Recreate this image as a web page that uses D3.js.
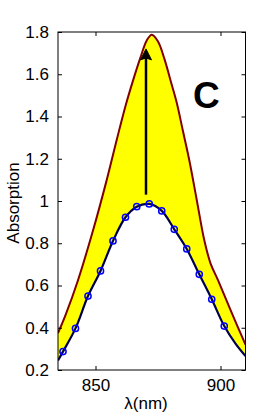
<!DOCTYPE html>
<html>
<head>
<meta charset="utf-8">
<script src="https://cdn.jsdelivr.net/npm/d3@7"></script>
<style>
html,body{margin:0;padding:0;background:#fff;}
svg{display:block;font-family:Arial,"Liberation Sans",sans-serif;}
</style>
</head>
<body>
<svg id="chart" width="280" height="420"></svg>
<script>
// wavelength (nm) of the measured points (blue circles)
const measWl  = [837, 842, 847, 852, 857, 862, 866.5, 871.5, 876.5, 881.5, 886.5, 891.5, 896.5, 901.5];
const measAbs = [0.287, 0.397, 0.550, 0.669, 0.811, 0.923, 0.973, 0.986, 0.953, 0.866, 0.773, 0.653, 0.535, 0.408];
// fitted lower curve (through measurements, extended to axis edges)
const lowerWl  = [835, 837, 842, 847, 852, 857, 862, 866.5, 871.5, 876.5, 881.5, 886.5, 891.5, 896.5, 901.5, 906, 910];
const lowerAbs = [0.245, 0.287, 0.397, 0.550, 0.669, 0.811, 0.923, 0.973, 0.986, 0.953, 0.866, 0.773, 0.653, 0.535, 0.408, 0.325, 0.266];
// enhanced (upper) curve
const upperWl  = [835, 838, 843, 849, 854.5, 858.5, 862, 865, 868, 870.5, 872.5, 875, 877.5, 880.5, 882.5, 885, 887.5, 890.5, 893.5, 896, 899, 904.5, 910];
const upperAbs = [0.375, 0.46, 0.625, 0.86, 1.10, 1.29, 1.45, 1.57, 1.68, 1.76, 1.787, 1.755, 1.675, 1.55, 1.465, 1.33, 1.194, 1.005, 0.815, 0.705, 0.625, 0.47, 0.32];
// arrow (wavelength, from, to)
const arrowWl = 870.2, arrowFrom = 1.03, arrowTo = 1.72;
const xTicks = [850, 900];
const yTicks = [0.2, 0.4, 0.6, 0.8, 1, 1.2, 1.4, 1.6, 1.8];
const yTickLabels = ["0.2", "0.4", "0.6", "0.8", "1", "1.2", "1.4", "1.6", "1.8"];
const xLabel = "λ(nm)", yLabel = "Absorption", panelLabel = "C";

const L = 58, R = 245.5, T = 32, B = 370;
const svg = d3.select("#chart");
const x = d3.scaleLinear().domain([835, 910]).range([L, R]);
const y = d3.scaleLinear().domain([0.2, 1.8]).range([B, T]);

svg.append("defs").append("clipPath").attr("id", "clip")
  .append("rect").attr("x", L).attr("y", T).attr("width", R - L).attr("height", B - T);

const g = svg.append("g").attr("clip-path", "url(#clip)");
const curve = d3.curveCatmullRom.alpha(0.5);
const upper = upperWl.map((w, i) => [w, upperAbs[i]]);
const lower = lowerWl.map((w, i) => [w, lowerAbs[i]]);
const line = d3.line().x(d => x(d[0])).y(d => y(d[1])).curve(curve);

const upPath = line(upper);
const lowRev = line(lower.slice().reverse());
g.append("path").attr("d", upPath + "L" + lowRev.slice(1) + "Z")
  .attr("fill", "#ffff00").attr("stroke", "none");

g.append("path").attr("d", upPath).attr("fill", "none")
  .attr("stroke", "#800000").attr("stroke-width", 2);
g.append("path").attr("d", line(lower)).attr("fill", "none")
  .attr("stroke", "#000050").attr("stroke-width", 2.2);

g.selectAll("circle.m").data(measWl).join("circle").attr("class", "m")
  .attr("cx", (d) => x(d)).attr("cy", (d, i) => y(measAbs[i]))
  .attr("r", 3.1).attr("fill", "none").attr("stroke", "#0000ff").attr("stroke-width", 1.5);

// arrow
const ax = x(arrowWl);
svg.append("line").attr("x1", ax).attr("x2", ax)
  .attr("y1", y(arrowFrom)).attr("y2", y(arrowTo) + 8)
  .attr("stroke", "#000").attr("stroke-width", 2.5);
const tip = y(arrowTo);
svg.append("path")
  .attr("d", `M${ax},${tip} L${ax + 5.5},${tip + 11} L${ax},${tip + 9} L${ax - 5.5},${tip + 11} Z`)
  .attr("fill", "#000").attr("stroke", "#000").attr("stroke-width", 1).attr("stroke-linejoin", "round");

// axes box
const ax0 = svg.append("g");
ax0.append("rect").attr("x", L).attr("y", T).attr("width", R - L).attr("height", B - T)
  .attr("fill", "none").attr("stroke", "#000").attr("stroke-width", 1);

const tl = 4;
svg.append("g").attr("transform", `translate(0,${B})`)
  .call(d3.axisBottom(x).tickValues(xTicks).tickSize(-tl).tickPadding(9).tickFormat(d3.format("d")))
  .call(s => s.select(".domain").remove());
svg.append("g").attr("transform", `translate(0,${T})`)
  .call(d3.axisTop(x).tickValues(xTicks).tickSize(-tl).tickFormat(""))
  .call(s => s.select(".domain").remove());
svg.append("g").attr("transform", `translate(${L},0)`)
  .call(d3.axisLeft(y).tickValues(yTicks).tickSize(-tl).tickPadding(9).tickFormat((d, i) => yTickLabels[i]))
  .call(s => s.select(".domain").remove());
svg.append("g").attr("transform", `translate(${R},0)`)
  .call(d3.axisRight(y).tickValues(yTicks).tickSize(-tl).tickFormat(""))
  .call(s => s.select(".domain").remove());

svg.selectAll(".tick text").attr("font-size", 17).attr("font-family", "Arial, 'Liberation Sans', sans-serif").attr("fill", "#000");
svg.selectAll(".tick line").attr("stroke", "#000");

svg.append("text").attr("x", 146).attr("y", 409).attr("text-anchor", "middle")
  .attr("font-size", 17).text(xLabel);
svg.append("text").attr("transform", "translate(19,203) rotate(-90)").attr("text-anchor", "middle")
  .attr("font-size", 17).text(yLabel);
svg.append("text").attr("x", 193).attr("y", 108).attr("font-size", 37).attr("font-weight", "bold")
  .text(panelLabel);
</script>
</body>
</html>
